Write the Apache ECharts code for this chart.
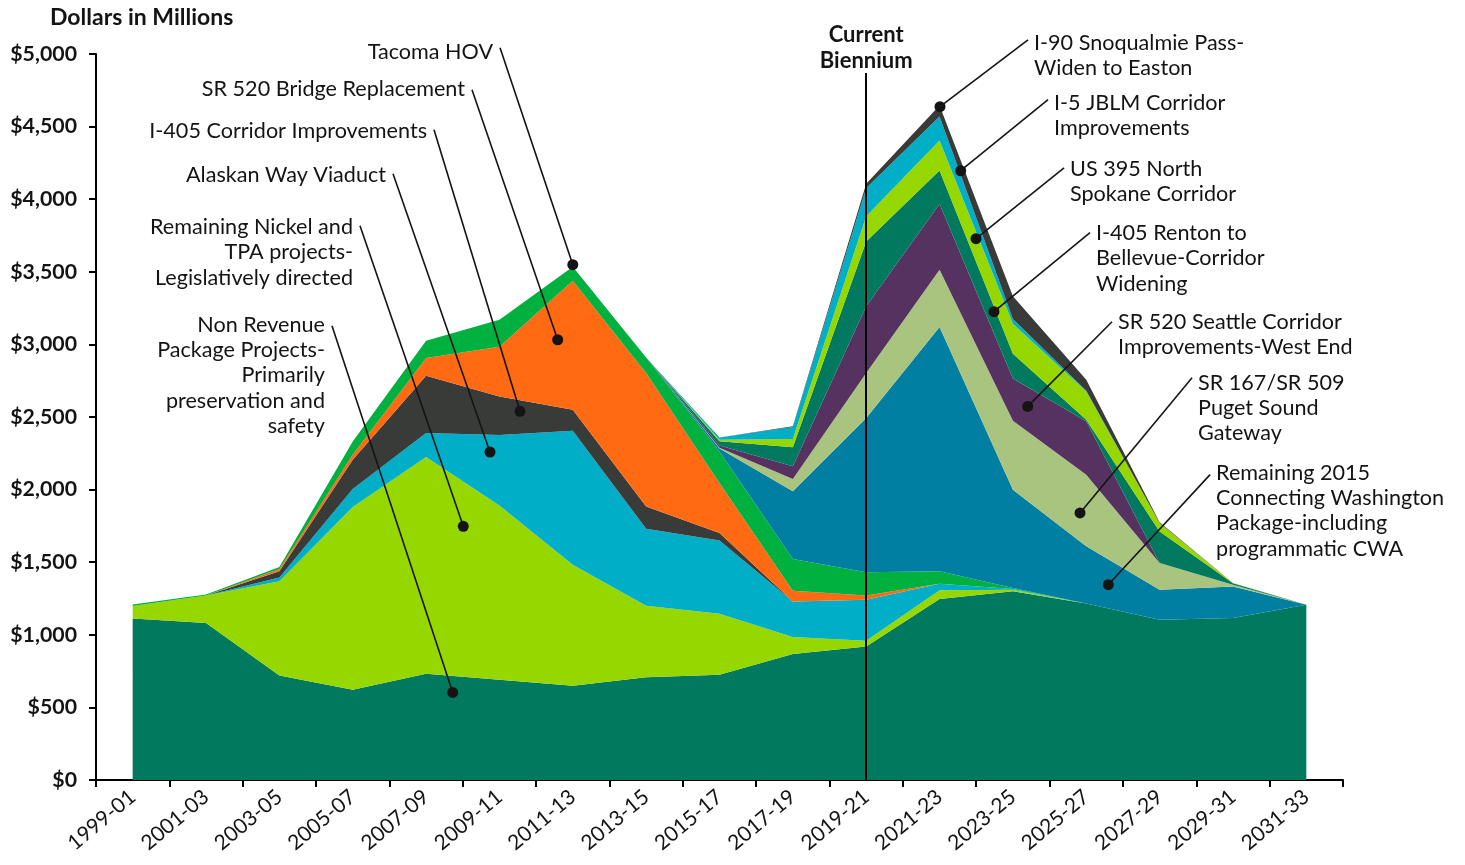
<!DOCTYPE html>
<html>
<head>
<meta charset="utf-8">
<title>Nickel, TPA and Connecting Washington spending</title>
<script src="https://cdn.jsdelivr.net/npm/echarts@6/dist/echarts.min.js"></script>
<style>
  html, body { margin: 0; padding: 0; background: #fff; }
  #chart { width: 1465px; height: 865px; }
</style>
</head>
<body>
<div id="chart"></div>
<script>
// biennia on the x axis
const categories = ['1999-01', '2001-03', '2003-05', '2005-07', '2007-09', '2009-11', '2011-13', '2013-15',
  '2015-17', '2017-19', '2019-21', '2021-23', '2023-25', '2025-27', '2027-29', '2029-31', '2031-33']

// dollars in millions, stacked bottom to top
const nonRevenue   = [1113, 1082, 720, 622, 732, 690, 649, 707, 725, 868, 920, 1246, 1300, 1215, 1104, 1116, 1207]
const nickelTpa    = [85, 188, 648, 1258, 1492, 1200, 834, 493, 420, 117, 39, 60, 10, 0, 0, 0, 0]
const alaskanWay   = [0, 0, 27, 124, 166, 486, 922, 531, 505, 245, 283, 46, 5, 0, 0, 0, 0]
const i405Corridor = [0, 0, 42, 202, 394, 266, 145, 153, 51, 0, 0, 0, 0, 0, 0, 0, 0]
const sr520Bridge  = [0, 0, 16, 34, 122, 342, 889, 919, 344, 74, 29, 0, 0, 0, 0, 0, 0]
const tacomaHov    = [10, 8, 14, 92, 119, 186, 96, 107, 218, 218, 159, 85, 8, 0, 0, 0, 0]
const cwaRemaining = [0, 0, 0, 0, 0, 0, 0, 0, 20, 466, 1063, 1683, 676, 394, 207, 217, 0]
const sr167Sr509   = [0, 0, 0, 0, 0, 0, 0, 0, 5, 85, 310, 394, 476, 494, 183, 12, 0]
const sr520West    = [0, 0, 0, 0, 0, 0, 0, 0, 15, 87, 459, 453, 290, 367, 0, 0, 0]
const i405Renton   = [0, 0, 0, 0, 0, 0, 0, 0, 30, 131, 447, 231, 170, 11, 218, 10, 0]
const us395        = [0, 0, 0, 0, 0, 0, 0, 0, 10, 57, 173, 207, 208, 195, 58, 2, 0]
const i5Jblm       = [0, 0, 0, 0, 0, 0, 0, 0, 15, 83, 195, 165, 32, 5, 0, 0, 0]
const i90Snoqualmie = [0, 0, 0, 0, 0, 0, 0, 0, 0, 5, 30, 75, 156, 76, 5, 0, 0]

const yTicks = [0, 500, 1000, 1500, 2000, 2500, 3000, 3500, 4000, 4500, 5000]

const colors = {
  teal: '#00795e',
  lime: '#97d700',
  cyan: '#00aec7',
  gray: '#383b38',
  orange: '#ff6a13',
  green: '#00b140',
  blue: '#007fa3',
  sage: '#a9c47f',
  purple: '#563260',
}

const layers = [
  { name: 'Non Revenue Package Projects', data: nonRevenue, color: colors.teal },
  { name: 'Remaining Nickel and TPA projects', data: nickelTpa, color: colors.lime },
  { name: 'Alaskan Way Viaduct', data: alaskanWay, color: colors.cyan },
  { name: 'I-405 Corridor Improvements', data: i405Corridor, color: colors.gray },
  { name: 'SR 520 Bridge Replacement', data: sr520Bridge, color: colors.orange },
  { name: 'Tacoma HOV', data: tacomaHov, color: colors.green },
  { name: 'Remaining 2015 Connecting Washington', data: cwaRemaining, color: colors.blue },
  { name: 'SR 167/SR 509 Puget Sound Gateway', data: sr167Sr509, color: colors.sage },
  { name: 'SR 520 Seattle Corridor Improvements-West End', data: sr520West, color: colors.purple },
  { name: 'I-405 Renton to Bellevue-Corridor Widening', data: i405Renton, color: colors.teal },
  { name: 'US 395 North Spokane Corridor', data: us395, color: colors.lime },
  { name: 'I-5 JBLM Corridor Improvements', data: i5Jblm, color: colors.cyan },
  { name: 'I-90 Snoqualmie Pass-Widen to Easton', data: i90Snoqualmie, color: colors.gray },
]

// callouts: dot and leader start in [category index, value]; dy nudges the text
const callouts = [
  { text: 'Tacoma HOV', side: 'left', dot: [6.0, 3549], from: [5.008, 5043], dy: 3 },
  { text: 'SR 520 Bridge Replacement', side: 'left', dot: [5.794, 3032], from: [4.626, 4754], dy: -2 },
  { text: 'I-405 Corridor Improvements', side: 'left', dot: [5.28, 2539], from: [4.108, 4479], dy: 0 },
  { text: 'Alaskan Way Viaduct', side: 'left', dot: [4.871, 2259], from: [3.549, 4176], dy: 0 },
  { text: 'Remaining Nickel and\nTPA projects-\nLegislatively directed', side: 'left', dot: [4.507, 1747], from: [3.099, 3817], dy: 0 },
  { text: 'Non Revenue\nPackage Projects-\nPrimarily\npreservation and\nsafety', side: 'left', dot: [4.363, 603], from: [2.717, 3129], dy: -2 },
  { text: 'I-90 Snoqualmie Pass-\nWiden to Easton', side: 'right', dot: [11.006, 4637], from: [12.206, 5098], dy: 2 },
  { text: 'I-5 JBLM Corridor\nImprovements', side: 'right', dot: [11.288, 4196], from: [12.479, 4685], dy: 2 },
  { text: 'US 395 North\nSpokane Corridor', side: 'right', dot: [11.497, 3728], from: [12.697, 4216], dy: 0 },
  { text: 'I-405 Renton to\nBellevue-Corridor\nWidening', side: 'right', dot: [11.742, 3225], from: [13.051, 3769], dy: -1 },
  { text: 'SR 520 Seattle Corridor\nImprovements-West End', side: 'right', dot: [12.202, 2573], from: [13.351, 3156], dy: -1 },
  { text: 'SR 167/SR 509\nPuget Sound\nGateway', side: 'right', dot: [12.915, 1839], from: [14.442, 2771], dy: 4 },
  { text: 'Remaining 2015\nConnecting Washington\nPackage-including\nprogrammatic CWA', side: 'right', dot: [13.3, 1345], from: [14.688, 2103], dy: -3 },
]

const font = 'Lato, "Open Sans", sans-serif'
const ink = '#141414'

const chart = echarts.init(document.getElementById('chart'))

const series = layers.map((l, i) => ({
  type: 'line',
  name: l.name,
  stack: 'total',
  data: l.data,
  symbol: 'none',
  color: l.color,
  lineStyle: { width: 0 },
  areaStyle: { color: l.color, opacity: 1 },
  emphasis: { disabled: true },
  z: i === layers.length - 1 ? 4 : 2,
}))

// current biennium marker sits on the top layer so it draws over the areas
series[series.length - 1].markLine = {
  silent: true,
  symbol: 'none',
  lineStyle: { color: '#000', width: 2, type: 'solid' },
  label: {
    show: true,
    position: 'end',
    distance: -1,
    formatter: 'Current\nBiennium',
    color: ink,
    fontFamily: font,
    fontWeight: 'bold',
    fontSize: 22,
    lineHeight: 26,
  },
  data: [[{ coord: ['2019-21', 0] }, { coord: ['2019-21', 4870] }]],
}

chart.setOption({
  animation: false,
  title: {
    text: 'Dollars in Millions',
    left: 50,
    top: 6,
    padding: 0,
    textStyle: { fontFamily: font, fontWeight: 'bold', fontSize: 23, color: ink },
  },
  grid: { left: 96, right: 122, top: 54, bottom: 85, containLabel: false },
  xAxis: {
    type: 'category',
    data: categories,
    boundaryGap: true,
    axisLine: { lineStyle: { color: '#000', width: 2 } },
    axisTick: { show: true, length: 7, lineStyle: { color: '#000', width: 2 } },
    axisLabel: {
      rotate: 40,
      margin: 14,
      interval: 0,
      color: ink,
      fontFamily: font,
      fontSize: 21,
    },
    splitLine: { show: false },
  },
  yAxis: {
    type: 'value',
    min: yTicks[0],
    max: yTicks[yTicks.length - 1],
    interval: yTicks[1] - yTicks[0],
    axisLine: { show: true, lineStyle: { color: '#000', width: 2 } },
    axisTick: { show: true, length: 7, lineStyle: { color: '#000', width: 2 } },
    axisLabel: {
      margin: 19,
      color: ink,
      fontFamily: font,
      fontWeight: 'bold',
      fontSize: 21.3,
      formatter: (v) => '$' + v.toLocaleString('en-US'),
    },
    splitLine: { show: false },
  },
  series,
})

// fractional category index -> pixel, through the chart's own axes
const toPx = ([xi, v]) => {
  const i0 = Math.floor(xi)
  const i1 = Math.min(i0 + 1, categories.length - 1)
  const p0 = chart.convertToPixel({ gridIndex: 0 }, [i0, v])
  const p1 = chart.convertToPixel({ gridIndex: 0 }, [i1, v])
  return [p0[0] + (p1[0] - p0[0]) * (xi - i0), p0[1]]
}

const lineH = 25.4
const graphic = []
callouts.forEach((c) => {
  const d = toPx(c.dot)
  const f = toPx(c.from)
  graphic.push({
    type: 'line',
    silent: true,
    z: 50,
    shape: { x1: f[0], y1: f[1], x2: d[0], y2: d[1] },
    style: { stroke: ink, lineWidth: 1.6 },
  })
  graphic.push({
    type: 'circle',
    silent: true,
    z: 51,
    shape: { cx: d[0], cy: d[1], r: 5.5 },
    style: { fill: ink },
  })
  const left = c.side === 'left'
  graphic.push({
    type: 'text',
    silent: true,
    z: 52,
    x: left ? f[0] - 7 : f[0] + 6,
    y: f[1] + 1 + c.dy - lineH / 2,
    style: {
      text: c.text,
      align: left ? 'right' : 'left',
      verticalAlign: 'top',
      lineHeight: lineH,
      font: '21.6px ' + font,
      fill: ink,
    },
  })
})

chart.setOption({ graphic })
</script>
</body>
</html>
